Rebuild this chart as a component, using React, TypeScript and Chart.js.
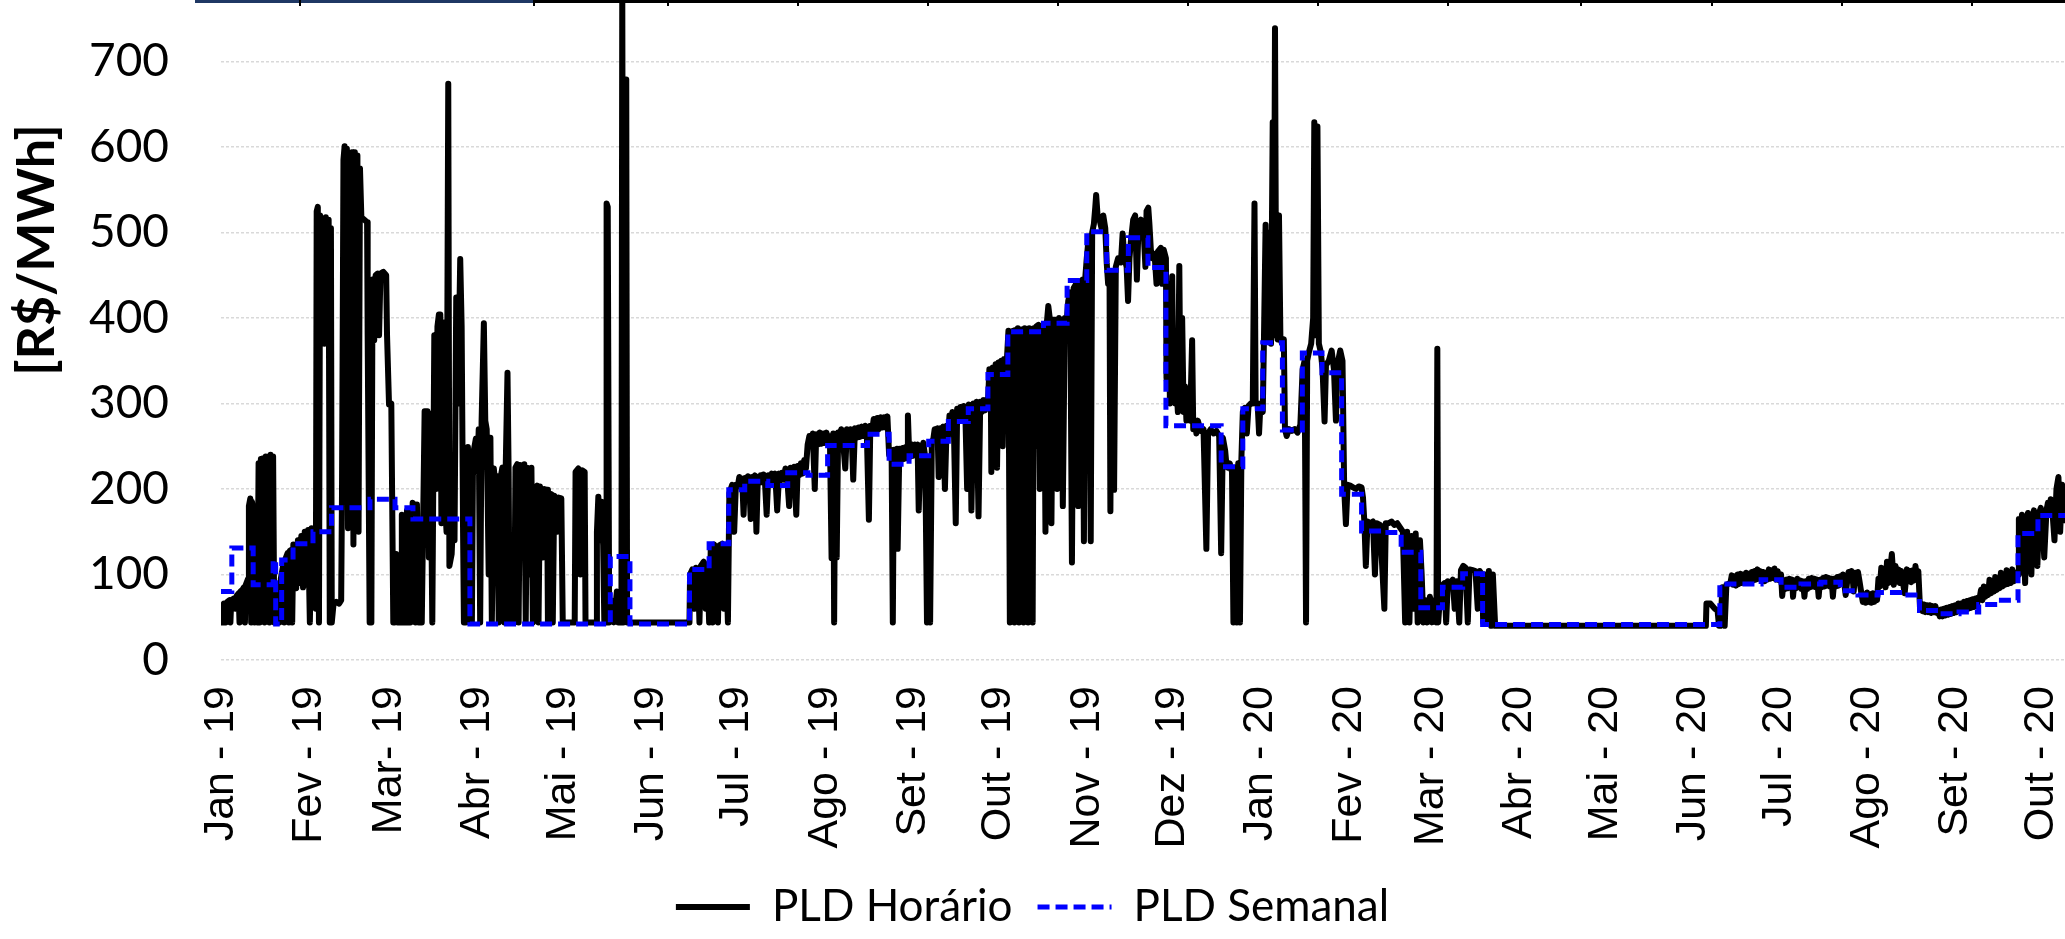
import React, { useEffect, useRef } from 'react';
import { Chart, registerables } from 'chart.js';

Chart.register(...registerables);

// x values are days counted from 1 Jan 2019
const monthTickDays = [0, 31, 59, 90, 120, 151, 181, 212, 243, 273, 304, 334, 365, 396, 425, 456, 486, 517, 547, 578, 609, 639];
const monthLabels = ['Jan - 19', 'Fev - 19', 'Mar- 19', 'Abr - 19', 'Mai - 19', 'Jun - 19', 'Jul - 19', 'Ago - 19', 'Set - 19', 'Out - 19', 'Nov - 19', 'Dez - 19', 'Jan - 20', 'Fev - 20', 'Mar - 20', 'Abr - 20', 'Mai - 20', 'Jun - 20', 'Jul - 20', 'Ago - 20', 'Set - 20', 'Out - 20'];
const yTickValues = [0, 100, 200, 300, 400, 500, 600, 700];

const seriesNames = ['PLD Horário', 'PLD Semanal'];
const yAxisTitle = '[R$/MWh]';

// PLD Horário: [day, R$/MWh]
const horarioJanJun19: [number, number][] = [
  [0, 44], [0.8, 44], [1.0, 66], [1.6, 66], [1.8, 44], [2.2, 68], [3.0, 70], [3.3, 44], [3.6, 70], [4.5, 72], [5, 60], [5.5, 75], [6.2, 78], [6.5, 44], [6.8, 80], [7.5, 82], [8, 85], [8.4, 44], [8.7, 88], [9.5, 95],
  [9.8, 180], [10.3, 189], [10.6, 44], [10.9, 185], [11.5, 170], [11.8, 44], [12.2, 95], [12.8, 44],
  [13.2, 230], [13.6, 44], [14, 235], [14.4, 60], [14.8, 236], [15.3, 44], [15.7, 238], [16.1, 70], [16.5, 238], [17, 44], [17.4, 240], [17.9, 80], [18.3, 238], [18.7, 44],
  [19.2, 84], [19.8, 44], [20.5, 44],
  [21, 95], [21.8, 110], [22.2, 44], [22.6, 118], [23.4, 125], [23.8, 44], [24.2, 128], [24.8, 129], [25, 44],
  [25.4, 135], [26.4, 84], [27, 140], [27.6, 90], [28.2, 145], [28.8, 85], [29.4, 150], [30, 88], [30.6, 152], [31.2, 44], [31.8, 154], [32.4, 100],
  [33.3, 60], [33.6, 525], [34, 530], [34.4, 44], [34.8, 520], [35.4, 420], [35.8, 510], [36.3, 370], [36.8, 518], [37.3, 380], [37.8, 515], [38.2, 44], [38.6, 505], [38.9, 44],
  [39.5, 65], [40.5, 68], [41.5, 66], [42.2, 70],
  [42.5, 200], [43, 585], [43.4, 601], [43.8, 470], [44.2, 598], [44.6, 154], [45, 590], [45.5, 480], [46, 594], [46.5, 135], [47, 594], [47.4, 470], [47.9, 590], [48.3, 150], [48.8, 575], [49.3, 516],
  [50, 516], [51.3, 512], [51.5, 380], [52.2, 44], [52.8, 44], [53.2, 445], [53.8, 374], [54.3, 450], [55, 452], [55.5, 380], [56, 452], [57, 454], [58, 450], [58.3, 380], [59, 299], [59.8, 300], [60.5, 44],
  [61, 44], [61.5, 124], [62, 44], [63.3, 44], [63.5, 170], [64, 44], [65, 44], [65.3, 175], [65.8, 44], [66.5, 44], [67.3, 184], [68, 180], [68.3, 44], [68.8, 182], [69.4, 44], [70.5, 44],
  [71.5, 291], [72.5, 291], [73, 120], [73.5, 288], [74.2, 44],
  [74.9, 380], [75.5, 200], [76, 390], [76.5, 404], [77, 404], [77.4, 160], [78, 395], [78.4, 200],
  [79.2, 150], [79.8, 674], [80.2, 110],
  [81, 124], [81.6, 174], [82, 140], [82.6, 424], [83.2, 300], [84, 469], [84.5, 390], [85, 150], [85.3, 44],
  [86, 44], [86.7, 249], [87.3, 200], [88.1, 44], [88.5, 240], [89.5, 259], [90, 220], [90.5, 270], [91, 44], [91.5, 279], [92.3, 394], [92.8, 280], [93.3, 270], [94, 100], [94.6, 260], [95.1, 44],
  [95.8, 224], [96.5, 200], [97, 215], [97.5, 44], [98, 210], [98.8, 225], [99.5, 44], [100, 230], [100.6, 336], [101, 220], [101.3, 44],
  [102, 44], [103, 44], [103.4, 225], [104, 229], [104.5, 44], [105, 228], [106, 150], [106.5, 229], [107, 44], [107.5, 225], [108.3, 100], [109, 225], [109.5, 44],
  [110.3, 200], [111, 204], [111.5, 44], [112, 203], [113, 120], [113.5, 200], [114.5, 199], [114.8, 44],
  [115.2, 190], [116, 194], [116.5, 44], [117, 192], [118, 150], [118.5, 190], [119.5, 189], [120, 44],
  [124.2, 44], [124.5, 220], [125.5, 224], [126.2, 100], [126.8, 222], [127.7, 220], [128, 44],
  [131.8, 44], [132, 150], [132.5, 191], [133, 140], [133.6, 185], [134.2, 134], [134.6, 44],
  [135.2, 44], [135.4, 534], [135.8, 530], [136.3, 44], [137, 70], [138, 44], [139, 80], [139.5, 44],
  [140.6, 44], [140.9, 790], [141.3, 44], [141.9, 679], [142.3, 679], [142.6, 44],
  [164.5, 44],
];

const horarioJulDez19: [number, number][] = [
  [164.7, 100], [165.5, 106], [166.3, 60], [166.8, 108], [167.5, 106], [168, 44], [168.5, 110], [169.5, 115], [170.2, 60], [170.8, 112], [171.4, 44],
  [172, 134], [172.6, 44], [173.2, 135], [174, 130], [174.5, 44], [175, 134], [176, 136], [176.6, 60], [177.2, 134], [178, 44],
  [178.5, 195], [179.5, 205], [180.2, 150], [180.8, 205],
  [181.5, 204], [182, 214], [182.5, 203], [183, 212], [183.5, 170], [184, 213], [184.5, 204], [185, 215], [185.5, 205], [186, 165], [186.5, 214], [187, 206], [187.5, 216], [188, 150], [188.5, 214], [189, 207], [189.5, 216], [190, 208], [190.5, 217], [191, 209], [191.6, 170], [192.2, 216], [192.8, 208], [193.4, 218], [194, 209], [194.6, 218], [195.3, 175], [196, 218], [196.5, 210], [197, 219], [197.6, 211],
  [198.2, 224], [198.8, 213], [199.5, 180], [200, 225], [200.6, 214], [201.2, 226], [202, 170], [202.5, 227], [203, 216], [203.6, 230], [204.2, 218], [204.8, 234], [205.4, 224], [206, 252],
  [206.6, 262], [207.2, 250], [207.8, 265], [208.5, 200], [209, 264], [209.6, 252], [210.2, 266], [210.8, 253], [211.4, 265], [212, 254], [212.6, 266], [213.2, 255], [213.8, 262], [214.4, 119],
  [215, 265], [215.3, 44], [215.7, 264], [216.2, 120], [216.7, 266], [217.2, 256], [217.8, 270], [218.4, 257], [219.2, 224], [219.8, 270], [220.4, 258], [221, 270], [221.5, 258], [222, 211], [222.6, 271], [223.2, 260], [223.8, 272], [224.4, 261], [225, 273], [225.6, 262], [226.2, 274], [226.8, 262], [227.5, 164], [228, 274],
  [228.6, 268], [229.2, 282], [229.8, 270], [230.4, 283], [231, 270], [231.6, 284], [232.2, 272], [232.8, 284], [233.4, 272], [234, 285], [234.6, 240],
  [235.1, 246], [235.5, 232], [235.9, 44], [236.3, 246], [236.8, 233], [237.3, 247], [237.6, 130], [238.2, 247], [238.7, 234], [239.3, 248], [239.8, 235], [240.4, 249], [240.9, 236], [241.2, 286], [241.6, 246],
  [242.1, 238], [242.6, 252], [243.1, 239], [243.6, 252], [244.1, 240], [244.6, 252], [245, 175], [245.6, 251], [246.1, 240], [246.6, 254], [247.1, 242], [247.5, 170], [247.9, 44], [248.3, 236], [249, 44], [249.6, 256],
  [250.1, 258], [250.6, 270], [251.1, 258], [251.6, 271], [252, 214], [252.6, 271], [253.1, 260], [253.6, 273], [254.2, 200], [254.8, 274], [255.3, 262],
  [255.8, 286], [256.3, 276], [256.8, 290], [257.3, 279], [258, 160], [258.5, 294], [259, 282], [259.6, 296], [260.2, 283], [260.8, 297], [261.4, 284], [262, 200], [262.6, 299], [263.1, 286], [263.5, 175], [264.2, 300], [264.7, 288], [265.3, 302], [266, 168], [266.6, 302], [267.1, 290], [267.7, 304], [268.3, 292], [268.9, 305], [269.3, 300],
  [269.8, 340], [270.3, 326], [270.5, 220], [271, 342], [271.5, 330], [272, 346], [272.5, 225], [273, 348], [273.5, 334], [274, 350], [274.5, 250], [275, 352], [275.5, 338], [276, 354],
  [276.5, 385], [277, 44], [277.4, 380], [277.8, 120], [278.2, 385], [278.6, 44], [279, 386], [279.4, 80], [279.8, 388], [280.2, 44], [280.6, 385], [281, 150], [281.4, 387], [281.8, 44], [282.2, 388], [282.6, 60], [283, 386], [283.4, 44], [283.8, 388], [284.2, 100], [284.6, 385], [285, 44], [285.4, 388], [285.8, 250], [286.2, 390], [287, 392], [287.5, 200], [288, 390], [289, 393], [289.5, 150], [290, 395], [290.5, 414], [291, 400], [291.6, 160], [292.2, 398], [293, 398], [293.6, 200], [294.3, 400], [295, 395], [295.6, 180], [296.3, 400], [297, 398],
  [297.5, 420], [298.2, 430], [298.8, 114], [299.4, 435], [300.3, 440], [301, 180], [301.6, 442], [302.5, 445], [303, 139], [303.5, 448],
  [304, 470], [304.7, 495], [305.4, 139], [305.9, 500], [306.5, 510], [307, 530], [307.3, 544], [307.8, 520], [308.5, 515], [309.2, 505], [309.8, 520], [310.5, 505], [311, 465], [311.5, 440],
  [312, 450], [312.3, 174], [312.8, 455], [313.6, 199], [314.2, 460], [315, 470], [316, 465], [316.6, 499], [317.2, 470], [318, 460], [318.5, 420], [319, 470],
  [319.5, 490], [320.3, 515], [321, 520], [321.6, 445], [322.2, 510], [323, 515], [324, 500], [324.6, 460], [325, 525], [325.6, 529], [326, 510], [326.5, 480],
  [327, 470], [327.8, 475], [328.5, 440], [329, 478], [330, 482], [330.5, 440], [331, 480], [331.8, 470],
  [332, 330], [332.4, 320], [332.8, 440], [333.2, 300], [334, 449], [334.4, 310], [335, 300], [335.5, 320], [336, 290], [336.5, 461], [336.9, 300], [337.5, 400], [338, 290], [338.5, 320], [339, 280], [339.8, 300], [340.3, 280], [341, 374], [341.4, 270], [342, 280], [342.5, 265], [343, 280],
  [344, 268], [345, 270], [346, 130], [346.6, 265], [347.5, 270], [348.5, 265], [349.5, 268], [350.5, 262], [351.2, 125], [351.8, 260], [352.6, 245],
  [353, 230], [353.5, 225], [354.2, 230], [355, 220], [355.5, 44], [356, 225], [356.7, 44], [357.2, 230], [357.8, 44], [358.3, 235],
  [358.8, 290], [359.5, 295], [360.2, 265], [360.8, 297], [361.6, 300], [362.3, 300], [362.9, 534], [363.3, 300], [364, 300], [364.5, 265], [365, 300],
];

const horario2020: [number, number][] = [
  [365.8, 290], [366.2, 370], [366.8, 509], [367.2, 375], [367.8, 380], [368.3, 500], [368.7, 370], [369.3, 629], [369.7, 380], [370.1, 739], [370.5, 400], [371, 375], [371.5, 520], [372, 375], [372.6, 370], [373.2, 375],
  [373.6, 270], [374.2, 262], [375, 270], [376, 268], [377, 270], [378, 266], [379, 275],
  [379.8, 340], [380.5, 350], [381, 44], [381.4, 350],
  [382, 360], [382.8, 370], [383.5, 400], [383.9, 629], [384.3, 380], [385, 624], [385.5, 370], [386.2, 360],
  [386.8, 340], [387.5, 279], [388, 345], [389, 350], [390, 362], [390.8, 340], [391.5, 280], [392, 345], [393, 362], [393.8, 350],
  [394.4, 200], [395, 159], [395.6, 205], [396.5, 204], [397.5, 202], [398.5, 200], [399.5, 203], [400.5, 202], [401, 190],
  [401.5, 160], [402, 110], [402.6, 162], [403.5, 160], [404.5, 162], [405.2, 100], [405.8, 160], [407, 158],
  [408.5, 60], [409, 160], [410, 160], [411, 162], [412, 158], [413, 160], [414, 155],
  [415, 150], [415.8, 44], [416.5, 150], [417.3, 44], [418, 145], [418.8, 60], [419.5, 148], [420.2, 44], [421, 140], [421.6, 100],
  [422.2, 44], [423, 70], [423.5, 44], [424.5, 74], [425.2, 44], [426, 70], [426.8, 44], [427.1, 364], [427.4, 44], [428, 72],
  [429, 88], [429.6, 90], [430.2, 44], [430.8, 92], [431.8, 90], [432.5, 94], [433.2, 60], [434, 92], [434.8, 44],
  [435.4, 105], [436.2, 110], [437, 108], [437.8, 44], [438.4, 106], [439.5, 105], [440.5, 104], [441.3, 60], [442, 104], [442.8, 100],
  [443.2, 44], [443.8, 100], [444.5, 44], [445.2, 104], [446, 40], [446.6, 100], [447.4, 40],
  [521.4, 40], [521.6, 66], [523, 66], [524.5, 60], [525.5, 58], [526, 40], [526.5, 40],
  [527.2, 85], [528, 40], [528.6, 88],
  [530, 90], [530.5, 99], [531, 88], [531.5, 98], [532, 87], [532.5, 100], [533, 89], [533.5, 101], [534, 90], [534.5, 100], [535, 91], [535.5, 102], [536, 90], [536.5, 101], [537, 92], [537.5, 103], [538, 93], [538.5, 104], [539, 94], [539.5, 106], [540, 95], [540.5, 104], [541, 93], [541.5, 103], [542, 92], [542.5, 102], [543, 94], [543.5, 106], [544, 95], [544.5, 105], [545, 96], [545.5, 107], [546, 94], [546.6, 104], [547.2, 93], [547.8, 100],
  [548.2, 75], [548.7, 92], [549.2, 83], [549.7, 94], [550.2, 84], [550.7, 95], [551.2, 85], [551.7, 94], [552, 74], [552.5, 93], [553, 84], [553.5, 95], [554, 85], [554.5, 93], [555, 83], [555.5, 92], [556, 74], [556.5, 92], [557, 83], [557.5, 95], [558, 85], [558.5, 96], [559, 86], [559.5, 95], [560, 85], [560.5, 94], [561, 74], [561.5, 94], [562, 85], [562.5, 96], [563, 86], [563.5, 97], [564, 87], [564.5, 96], [565, 86], [565.5, 95], [566, 74], [566.5, 95], [567, 86], [567.5, 97], [568, 87], [568.5, 98],
  [569, 90], [569.5, 100], [570, 89], [570.5, 76], [571, 92], [571.5, 103], [572, 93], [572.5, 104], [573, 94], [573.3, 80], [573.8, 102], [574.3, 92], [574.8, 103], [575.3, 93],
  [576, 78], [576.5, 68], [577, 77], [577.5, 67], [578, 79], [578.5, 68], [579, 77], [579.5, 67], [580, 78], [580.5, 68], [581, 77], [581.5, 70],
  [582, 95], [582.5, 86], [583, 108], [583.5, 88], [584, 100], [584.5, 85], [585, 115], [585.5, 90], [586, 102], [586.7, 124], [587.4, 88], [588, 110], [588.5, 92], [589, 106], [589.5, 90], [590, 104], [590.5, 92], [591.2, 78], [592, 106], [592.5, 92], [593, 104], [593.5, 91], [594, 105], [594.5, 93], [595, 110], [595.5, 94], [596, 104],
  [596.6, 60], [597, 66], [597.5, 57], [598, 65], [598.5, 56], [599, 64], [599.5, 56], [600, 64], [600.5, 55], [601, 63], [601.5, 56], [602, 63], [602.5, 55],
  [603, 58], [603.5, 51], [604, 59], [604.5, 51], [605, 60], [605.5, 52], [606, 61], [606.5, 53], [607, 62], [607.5, 54], [608, 63], [608.5, 55], [609, 64], [609.5, 56], [610, 66], [610.5, 57], [611, 66], [611.5, 58], [612, 68], [612.5, 59], [613, 69], [613.5, 60], [614, 70], [614.5, 61], [615, 71], [615.5, 62], [616, 72], [616.5, 63], [617, 73],
  [617.5, 72], [618, 82], [618.5, 70], [619, 86], [619.5, 74], [620, 85], [620.5, 76], [621, 94], [621.5, 78], [622, 90], [622.5, 80], [623, 97], [623.5, 82], [624, 95], [624.5, 84], [625, 102], [625.5, 86], [626, 98], [626.5, 88], [627, 105], [627.5, 89], [628, 100], [628.5, 90], [629, 106], [629.5, 92], [630, 102], [630.5, 94],
  [631, 100], [631.3, 165], [632, 158], [632.4, 170], [632.8, 160], [633.5, 90], [634, 165], [634.5, 172], [635, 162], [635.7, 100], [636.2, 168], [636.6, 175], [637, 164], [637.8, 110], [638.4, 172], [639, 178], [639.5, 166], [640.2, 120], [641, 175],
  [641.5, 184], [642, 172], [642.5, 188], [643, 178], [643.8, 140], [644.5, 200], [645.2, 214], [645.8, 150], [646.5, 205], [647, 190], [647.5, 160],
];

// PLD Semanal: week start day and weekly value
const semanalDays = [0, 3.8, 11.3, 18.3, 19.2, 21.3, 25.3, 32.3, 38.8, 52.3, 61.1, 67.4, 87.4, 136.7, 143.6, 164.5, 171.4, 178.3, 183.9, 192, 199, 206.1, 213, 227, 234.6, 241.6, 248.5, 255.4, 262.4, 269.3, 276.3, 288.8, 297.1, 304, 311, 318.6, 325.5, 331.8, 351.2, 358.8, 365.8, 372.7, 379.7, 386.6, 393.5, 400.5, 408.1, 414.4, 421.3, 428.9, 436, 443, 526.3, 540.8, 547.8, 554.8, 561.8, 568.6, 574.8, 581.8, 589.4, 596.4, 603.3, 610.3, 617.2, 624.1, 631, 638, 648];
const semanalVals = [80, 131, 88, 117, 42, 117, 136, 150, 178, 188, 178, 165, 42, 121, 42, 106, 136, 199, 209, 204, 219, 216, 251, 264, 229, 239, 256, 279, 294, 334, 384, 394, 444, 501, 456, 494, 459, 274, 226, 294, 371, 269, 359, 336, 194, 151, 149, 126, 61, 85, 101, 41.5, 89, 94, 85, 89, 91, 81, 76, 79, 76, 58, 54, 56, 65, 70, 148, 169, 169];

const topRuleTicks = [299, 533, 667, 797, 927, 1057, 1187, 1317, 1447, 1580, 1711, 1841, 1971];

const yTitlePlugin = {
  id: 'yTitleRotated',
  afterDraw(chart: any) {
    const ctx = chart.ctx;
    ctx.save();
    ctx.translate(37, 250);
    ctx.rotate(-Math.PI / 2);
    ctx.font = 'bold 52px Lato';
    ctx.fillStyle = '#000';
    ctx.textAlign = 'center';
    ctx.textBaseline = 'middle';
    ctx.fillText(yAxisTitle, 0, 0);
    ctx.restore();
  },
};

export default function App() {
  const canvasRef = useRef<HTMLCanvasElement | null>(null);

  useEffect(() => {
    document.body.style.margin = '0';
    const canvas = canvasRef.current;
    if (!canvas) return;
    const horario = [...horarioJanJun19, ...horarioJulDez19, ...horario2020].map(([x, y]) => ({ x, y }));
    const semanal = semanalDays.map((x, i) => ({ x, y: semanalVals[i] }));

    const chart = new Chart(canvas, {
      type: 'line',
      data: {
        datasets: [
          {
            label: seriesNames[0],
            data: horario,
            borderColor: '#000000',
            backgroundColor: '#000000',
            borderWidth: 6,
            pointRadius: 0,
            tension: 0,
            borderJoinStyle: 'round',
            order: 2,
          },
          {
            label: seriesNames[1],
            data: semanal,
            borderColor: '#0000ff',
            backgroundColor: '#0000ff',
            borderWidth: 5,
            borderDash: [12, 6],
            pointRadius: 0,
            stepped: true,
            order: 1,
          },
        ],
      },
      options: {
        animation: false,
        responsive: true,
        maintainAspectRatio: false,
        layout: { padding: 0 },
        plugins: {
          tooltip: { enabled: false },
          legend: {
            position: 'bottom',
            labels: {
              usePointStyle: true,
              pointStyle: 'line',
              pointStyleWidth: 74,
              padding: 25,
              color: '#000',
              font: { family: 'Lato', size: 44 },
              sort: (a: any, b: any) => a.datasetIndex - b.datasetIndex,
              generateLabels: (c: any) => {
                const items = (Chart.defaults as any).plugins.legend.labels.generateLabels(c);
                items.forEach((it: any) => {
                  const ds = c.data.datasets[it.datasetIndex];
                  it.lineWidth = ds.borderWidth;
                  it.lineDash = ds.borderDash || [];
                  it.strokeStyle = ds.borderColor;
                  it.pointStyle = 'line';
                });
                return items;
              },
            },
          },
        },
        scales: {
          x: {
            type: 'linear',
            min: 0,
            max: 647.5,
            grid: { display: false },
            border: { display: false },
            afterBuildTicks: (scale: any) => {
              scale.ticks = monthTickDays.map((v) => ({ value: v }));
            },
            ticks: {
              autoSkip: false,
              maxRotation: 90,
              minRotation: 90,
              padding: 18,
              color: '#000',
              font: { family: 'Liberation Sans', size: 43 },
              callback: (_v: any, i: number) => monthLabels[i],
            },
            afterFit: (scale: any) => {
              scale.height = 200;
              scale.paddingLeft = 0;
              scale.paddingRight = 0;
            },
          },
          y: {
            min: 0,
            max: 772,
            afterBuildTicks: (scale: any) => {
              scale.ticks = yTickValues.map((v) => ({ value: v }));
            },
            ticks: {
              padding: 52,
              color: '#000',
              font: { family: 'Lato', size: 46 },
            },
            grid: { color: '#d9d9d9', lineWidth: 1.5, drawTicks: false },
            border: { display: false, dash: [3, 2] },
            afterFit: (scale: any) => {
              scale.width = 221;
              scale.paddingTop = 0;
              scale.paddingBottom = 0;
            },
          },
        },
      },
      plugins: [yTitlePlugin],
    } as any);

    return () => chart.destroy();
  }, []);

  return (
    <div style={{ position: 'fixed', left: 0, top: 0, width: 2065, height: 939, background: '#fff', overflow: 'hidden' }}>
      <canvas ref={canvasRef} />
      <div style={{ position: 'absolute', left: 195, top: 0, width: 1870, height: 3, background: '#000' }} />
      <div style={{ position: 'absolute', left: 195, top: 0, width: 338, height: 3, background: '#1f3864' }} />
      {topRuleTicks.map((t) => (
        <div key={t} style={{ position: 'absolute', left: t, top: 0, width: 2, height: 6, background: '#000' }} />
      ))}
    </div>
  );
}
